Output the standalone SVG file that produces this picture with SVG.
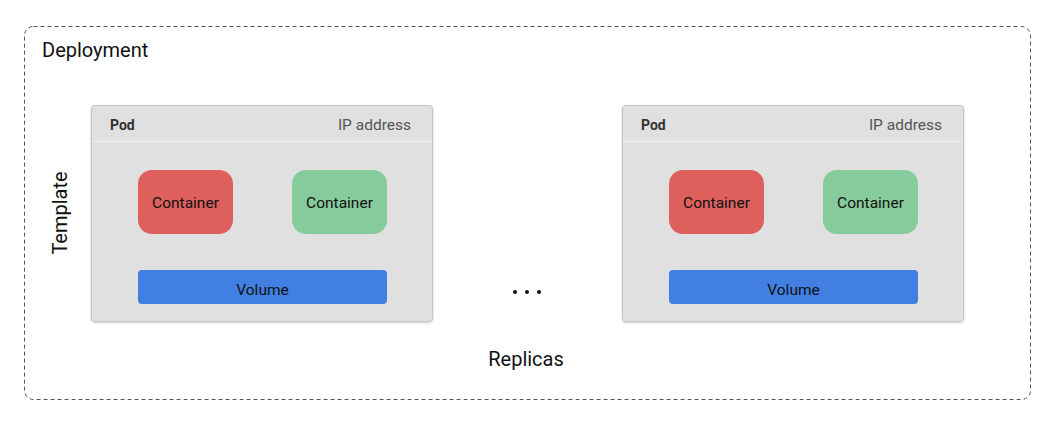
<svg xmlns="http://www.w3.org/2000/svg" width="1048" height="432" viewBox="0 0 1048 432">
<defs>
<style>
text{font-family:Roboto,"Liberation Sans",sans-serif}
.pod{fill:#e0e0e0;stroke:#c4c4c4;stroke-width:1}
.sep{stroke:#ebebeb;stroke-width:1.5}
.red{fill:#dd605c}
.green{fill:#86cb9b}
.vol{fill:#427fe3}
.podt{font-size:14px;font-weight:bold;fill:#333}
.ip{font-size:15.5px;fill:#555;text-anchor:end}
.ct{font-size:15.5px;fill:#111;text-anchor:middle}
.lbl{font-size:20px;fill:#111}
</style>
<filter id="sh" x="-5%" y="-5%" width="110%" height="115%">
<feDropShadow dx="0" dy="1" stdDeviation="1" flood-color="#000" flood-opacity="0.2"/>
</filter>
</defs>
<rect width="1048" height="432" fill="#fff"/>
<g id="deployment">
<rect x="24.5" y="26.5" width="1006" height="373" rx="9" fill="none" stroke="#555" stroke-width="1" stroke-dasharray="4 3"/>
<text class="lbl" x="42" y="57" font-size="19">Deployment</text>
<text class="lbl" transform="translate(67,213) rotate(-90)" text-anchor="middle">Template</text>
<text class="lbl" x="526" y="366" text-anchor="middle">Replicas</text>
</g>
<g id="pod1">
<rect class="pod" x="91.5" y="105.5" width="341" height="216" rx="3" filter="url(#sh)"/>
<line class="sep" x1="92" y1="141.5" x2="432" y2="141.5"/>
<text class="podt" x="110" y="130">Pod</text>
<text class="ip" x="411" y="130">IP address</text>
<g id="pod1-c1"><rect class="red" x="138" y="170" width="95" height="64" rx="14"/><text class="ct" x="185.5" y="207.5">Container</text></g>
<g id="pod1-c2"><rect class="green" x="292" y="170" width="95" height="64" rx="14"/><text class="ct" x="339.5" y="207.5">Container</text></g>
<g id="pod1-vol"><rect class="vol" x="138" y="270" width="249" height="34" rx="4"/><text class="ct" x="262.5" y="295">Volume</text></g>
</g>
<g id="pod2">
<rect class="pod" x="622.5" y="105.5" width="341" height="216" rx="3" filter="url(#sh)"/>
<line class="sep" x1="623" y1="141.5" x2="963" y2="141.5"/>
<text class="podt" x="641" y="130">Pod</text>
<text class="ip" x="942" y="130">IP address</text>
<g id="pod2-c1"><rect class="red" x="669" y="170" width="95" height="64" rx="14"/><text class="ct" x="716.5" y="207.5">Container</text></g>
<g id="pod2-c2"><rect class="green" x="823" y="170" width="95" height="64" rx="14"/><text class="ct" x="870.5" y="207.5">Container</text></g>
<g id="pod2-vol"><rect class="vol" x="669" y="270" width="249" height="34" rx="4"/><text class="ct" x="793.5" y="295">Volume</text></g>
</g>
<g id="ellipsis" fill="#111">
<circle cx="515" cy="292" r="2"/>
<circle cx="527" cy="292" r="2"/>
<circle cx="539" cy="292" r="2"/>
</g>
<g id="connectors"></g>
</svg>
